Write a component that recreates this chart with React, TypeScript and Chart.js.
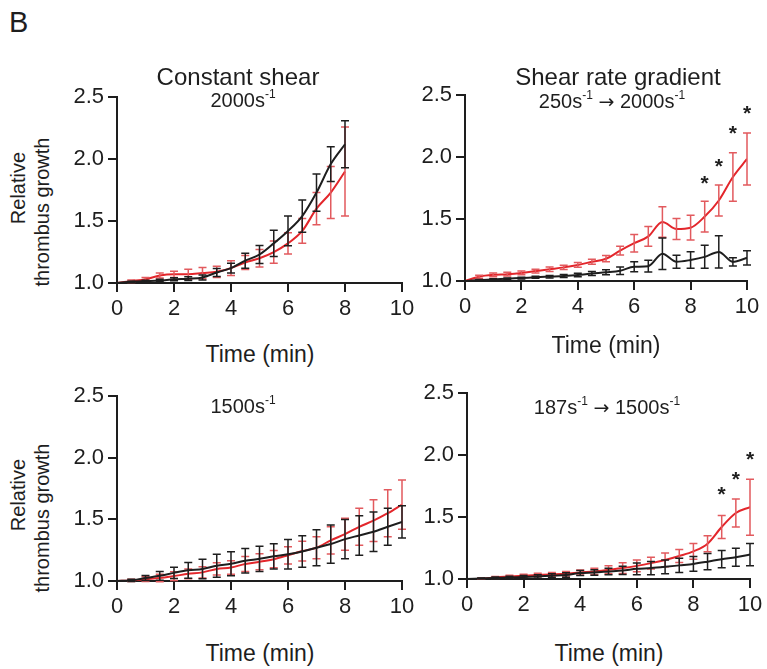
import React, { useEffect, useRef } from 'react';
import { Chart, registerables } from 'chart.js';
Chart.register(...registerables);

// ---------- data ----------
const timeFull = [0, 0.5, 1, 1.5, 2, 2.5, 3, 3.5, 4, 4.5, 5, 5.5, 6, 6.5, 7, 7.5, 8, 8.5, 9, 9.5, 10];
const timeTo8 = [0, 0.5, 1, 1.5, 2, 2.5, 3, 3.5, 4, 4.5, 5, 5.5, 6, 6.5, 7, 7.5, 8];

// Constant shear 2000 s-1
const c2000Black = [1.0, 1.01, 1.015, 1.02, 1.03, 1.035, 1.045, 1.085, 1.12, 1.18, 1.23, 1.32, 1.42, 1.54, 1.73, 1.96, 2.12];
const c2000BlackErr = [0, 0.005, 0.008, 0.01, 0.012, 0.015, 0.02, 0.033, 0.04, 0.06, 0.073, 0.106, 0.12, 0.13, 0.15, 0.14, 0.19];
const c2000Red = [1.0, 1.015, 1.03, 1.06, 1.07, 1.07, 1.08, 1.09, 1.12, 1.165, 1.2, 1.25, 1.32, 1.42, 1.6, 1.73, 1.9];
const c2000RedErr = [0, 0.01, 0.015, 0.02, 0.025, 0.04, 0.045, 0.045, 0.06, 0.057, 0.07, 0.09, 0.085, 0.1, 0.13, 0.21, 0.36];

// Gradient 250 -> 2000 s-1
const g2000Black = [1.0, 1.008, 1.013, 1.019, 1.024, 1.03, 1.035, 1.04, 1.048, 1.06, 1.07, 1.083, 1.115, 1.12, 1.22, 1.155, 1.17, 1.195, 1.235, 1.155, 1.187];
const g2000BlackErr = [0, 0.004, 0.005, 0.006, 0.007, 0.008, 0.01, 0.012, 0.014, 0.016, 0.02, 0.03, 0.04, 0.047, 0.127, 0.053, 0.067, 0.093, 0.13, 0.033, 0.057];
const g2000Red = [1.0, 1.035, 1.05, 1.055, 1.065, 1.08, 1.095, 1.11, 1.13, 1.155, 1.18, 1.245, 1.305, 1.36, 1.477, 1.42, 1.43, 1.52, 1.65, 1.84, 1.985];
const g2000RedErr = [0, 0.012, 0.015, 0.015, 0.015, 0.015, 0.018, 0.018, 0.02, 0.02, 0.025, 0.036, 0.07, 0.08, 0.123, 0.084, 0.1, 0.124, 0.125, 0.196, 0.21];
const g2000StarX = [8.5, 9, 9.5, 10];
const g2000StarY = [1.835, 1.97, 2.24, 2.4];

// Constant shear 1500 s-1
const c1500Black = [1.0, 1.005, 1.024, 1.042, 1.066, 1.087, 1.098, 1.124, 1.14, 1.164, 1.18, 1.2, 1.217, 1.24, 1.27, 1.3, 1.34, 1.37, 1.4, 1.44, 1.48];
const c1500BlackErr = [0, 0.01, 0.02, 0.036, 0.046, 0.064, 0.079, 0.093, 0.098, 0.1, 0.103, 0.103, 0.119, 0.128, 0.146, 0.155, 0.16, 0.16, 0.16, 0.15, 0.13];
const c1500Red = [1.0, 1.005, 1.015, 1.024, 1.04, 1.058, 1.07, 1.098, 1.11, 1.138, 1.156, 1.177, 1.209, 1.243, 1.27, 1.33, 1.38, 1.44, 1.49, 1.55, 1.62];
const c1500RedErr = [0, 0.01, 0.02, 0.03, 0.035, 0.04, 0.045, 0.05, 0.055, 0.06, 0.065, 0.07, 0.07, 0.08, 0.09, 0.11, 0.13, 0.15, 0.17, 0.19, 0.2];

// Gradient 187 -> 1500 s-1
const g1500Black = [1.0, 1.004, 1.008, 1.013, 1.016, 1.021, 1.027, 1.032, 1.048, 1.053, 1.061, 1.069, 1.082, 1.088, 1.098, 1.11, 1.122, 1.14, 1.16, 1.175, 1.197];
const g1500BlackErr = [0, 0.005, 0.008, 0.01, 0.012, 0.014, 0.016, 0.018, 0.02, 0.022, 0.026, 0.033, 0.047, 0.053, 0.056, 0.057, 0.06, 0.066, 0.07, 0.073, 0.09];
const g1500Red = [1.0, 1.003, 1.013, 1.02, 1.027, 1.032, 1.037, 1.043, 1.053, 1.061, 1.074, 1.088, 1.106, 1.128, 1.154, 1.186, 1.223, 1.285, 1.42, 1.533, 1.58];
const g1500RedErr = [0, 0.005, 0.008, 0.01, 0.012, 0.014, 0.016, 0.018, 0.02, 0.025, 0.032, 0.043, 0.047, 0.047, 0.056, 0.053, 0.064, 0.064, 0.093, 0.113, 0.226];
const g1500StarX = [9, 9.5, 10];
const g1500StarY = [1.726, 1.851, 2.013];

const yTicks = [1.0, 1.5, 2.0, 2.5];
const xTicks = [0, 2, 4, 6, 8, 10];

// ---------- styles ----------
const FONT = '"Liberation Sans", Arial, Helvetica, sans-serif';
const INK = '#1e1e1e';
const RED = '#e3262b';
const RED_ERR = '#e25a5e';

type PanelDef = {
  area: { l: number; r: number; t: number; b: number };
  times: number[];
  black: number[];
  blackErr: number[];
  red: number[];
  redErr: number[];
  starX?: number[];
  starY?: number[];
};

const panels: PanelDef[] = [
  { area: { l: 117, r: 402, t: 95, b: 283 }, times: timeTo8, black: c2000Black, blackErr: c2000BlackErr, red: c2000Red, redErr: c2000RedErr },
  { area: { l: 465, r: 747, t: 93, b: 281 }, times: timeFull, black: g2000Black, blackErr: g2000BlackErr, red: g2000Red, redErr: g2000RedErr, starX: g2000StarX, starY: g2000StarY },
  { area: { l: 117, r: 402, t: 394, b: 581 }, times: timeFull, black: c1500Black, blackErr: c1500BlackErr, red: c1500Red, redErr: c1500RedErr },
  { area: { l: 467, r: 750, t: 391, b: 579 }, times: timeFull, black: g1500Black, blackErr: g1500BlackErr, red: g1500Red, redErr: g1500RedErr, starX: g1500StarX, starY: g1500StarY },
];

const PAD_L = 60, PAD_R = 20, PAD_T = 15, PAD_B = 45;

const errorBarPlugin = {
  id: 'errorBars',
  afterDatasetDraw(chart: any, args: any) {
    const ds: any = chart.data.datasets[args.index];
    const err: number[] | undefined = ds.errors;
    if (!err) return;
    const { ctx, scales } = chart;
    const x = scales.x, y = scales.y;
    ctx.save();
    ctx.strokeStyle = ds.errColor;
    ctx.lineWidth = 1.5;
    ds.data.forEach((p: any, i: number) => {
      const e = err[i];
      if (!e) return;
      const px = x.getPixelForValue(p.x);
      const y1 = y.getPixelForValue(p.y + e);
      const y2 = y.getPixelForValue(p.y - e);
      ctx.beginPath();
      ctx.moveTo(px, y1); ctx.lineTo(px, y2);
      ctx.moveTo(px - 4, y1); ctx.lineTo(px + 4, y1);
      ctx.moveTo(px - 4, y2); ctx.lineTo(px + 4, y2);
      ctx.stroke();
    });
    ctx.restore();
  },
};

const starPlugin = {
  id: 'stars',
  afterDraw(chart: any) {
    const opts: any = chart.options.plugins.stars;
    if (!opts || !opts.xs) return;
    const { ctx, scales } = chart;
    ctx.save();
    ctx.fillStyle = INK;
    ctx.font = `bold 21px ${FONT}`;
    ctx.textAlign = 'center';
    ctx.textBaseline = 'alphabetic';
    opts.xs.forEach((xv: number, i: number) => {
      const px = scales.x.getPixelForValue(xv);
      const py = scales.y.getPixelForValue(opts.ys[i]);
      ctx.fillText('*', px, py + 0.58 * 21);
    });
    ctx.restore();
  },
};

function Panel({ def }: { def: PanelDef }) {
  const ref = useRef<HTMLCanvasElement | null>(null);
  const { area } = def;
  const w = area.r - area.l + PAD_L + PAD_R;
  const h = area.b - area.t + PAD_T + PAD_B;
  useEffect(() => {
    if (!ref.current) return;
    const tickFont = { family: FONT, size: 22 };
    const chart = new Chart(ref.current, {
      type: 'line',
      data: {
        datasets: [
          {
            data: def.times.map((t, i) => ({ x: t, y: def.black[i] })),
            borderColor: INK,
            borderWidth: 2,
            pointRadius: 0,
            cubicInterpolationMode: 'monotone',
            errors: def.blackErr,
            errColor: INK,
          } as any,
          {
            data: def.times.map((t, i) => ({ x: t, y: def.red[i] })),
            borderColor: RED,
            borderWidth: 2,
            pointRadius: 0,
            cubicInterpolationMode: 'monotone',
            errors: def.redErr,
            errColor: RED_ERR,
          } as any,
        ],
      },
      options: {
        responsive: false,
        animation: false,
        devicePixelRatio: 1,
        layout: { padding: { left: 0, right: PAD_R, top: PAD_T, bottom: 0 } },
        plugins: {
          legend: { display: false },
          tooltip: { enabled: false },
          stars: { xs: def.starX, ys: def.starY },
        } as any,
        scales: {
          x: {
            type: 'linear',
            min: 0,
            max: 10,
            afterBuildTicks: (s: any) => { s.ticks = xTicks.map((v) => ({ value: v })); },
            ticks: { font: tickFont, color: INK, padding: 4, maxRotation: 0, autoSkip: false },
            grid: { drawOnChartArea: false, drawTicks: true, tickLength: 9, lineWidth: 2, color: INK },
            border: { display: true, width: 2, color: INK },
            afterFit: (s: any) => { s.height = PAD_B; },
          },
          y: {
            type: 'linear',
            min: 1,
            max: 2.5,
            afterBuildTicks: (s: any) => { s.ticks = yTicks.map((v) => ({ value: v })); },
            ticks: { font: tickFont, color: INK, padding: 4, callback: (v: any) => Number(v).toFixed(1) },
            grid: { drawOnChartArea: false, drawTicks: true, tickLength: 9, lineWidth: 2, color: INK },
            border: { display: true, width: 2, color: INK },
            afterFit: (s: any) => { s.width = PAD_L; },
          },
        },
      },
      plugins: [errorBarPlugin, starPlugin],
    } as any);
    return () => chart.destroy();
  }, [def]);
  return (
    <canvas
      ref={ref}
      width={w}
      height={h}
      style={{ position: 'absolute', left: area.l - PAD_L, top: area.t - PAD_T, width: w, height: h }}
    />
  );
}

function Txt({ x, base, size, align = 'center', children }: { x: number; base: number; size: number; align?: string; children: any }) {
  const style: any = {
    position: 'absolute',
    top: base - 0.8465 * size,
    fontSize: size,
    lineHeight: 1,
    fontFamily: FONT,
    color: INK,
    whiteSpace: 'nowrap',
  };
  style.left = x;
  if (align === 'center') style.transform = 'translateX(-50%)';
  return <div style={style}>{children}</div>;
}

const Sup = ({ children }: { children: any }) => (
  <span style={{ fontSize: '0.6em', position: 'relative', top: '-0.75em' }}>{children}</span>
);

const Arrow = () => (
  <span style={{ fontFamily: '"DejaVu Sans", sans-serif', fontSize: '0.95em' }}>→</span>
);

// a single rotated line of text, centred at (cx, cy)
function VLine({ cx, cy, text }: { cx: number; cy: number; text: string }) {
  return (
    <div
      style={{
        position: 'absolute',
        left: cx,
        top: cy,
        width: 200,
        transform: 'translate(-50%, -50%) rotate(-90deg)',
        textAlign: 'center',
        fontFamily: FONT,
        fontSize: 20,
        lineHeight: '22px',
        color: INK,
        whiteSpace: 'nowrap',
      }}
    >
      {text}
    </div>
  );
}

export default function App() {
  return (
    <div style={{ position: 'absolute', left: 0, top: 0, width: 767, height: 669, background: '#fff', overflow: 'hidden' }}>
      {panels.map((p, i) => (
        <Panel key={i} def={p} />
      ))}
      <Txt x={9} base={33} size={29} align="left">B</Txt>
      <Txt x={238} base={85} size={24}>Constant shear</Txt>
      <Txt x={618} base={85} size={24}>Shear rate gradient</Txt>
      <Txt x={243} base={107} size={20}>2000s<Sup>-1</Sup></Txt>
      <Txt x={612} base={108} size={20}>250s<Sup>-1</Sup> <Arrow /> 2000s<Sup>-1</Sup></Txt>
      <Txt x={243} base={413} size={20}>1500s<Sup>-1</Sup></Txt>
      <Txt x={607} base={414} size={20}>187s<Sup>-1</Sup> <Arrow /> 1500s<Sup>-1</Sup></Txt>
      <Txt x={260} base={362} size={23}>Time (min)</Txt>
      <Txt x={606} base={353} size={23}>Time (min)</Txt>
      <Txt x={260} base={661} size={23}>Time (min)</Txt>
      <Txt x={609} base={661} size={23}>Time (min)</Txt>
      <VLine cx={18} cy={188} text="Relative" />
      <VLine cx={42} cy={212} text="thrombus growth" />
      <VLine cx={18} cy={495} text="Relative" />
      <VLine cx={42} cy={518} text="thrombus growth" />
    </div>
  );
}
